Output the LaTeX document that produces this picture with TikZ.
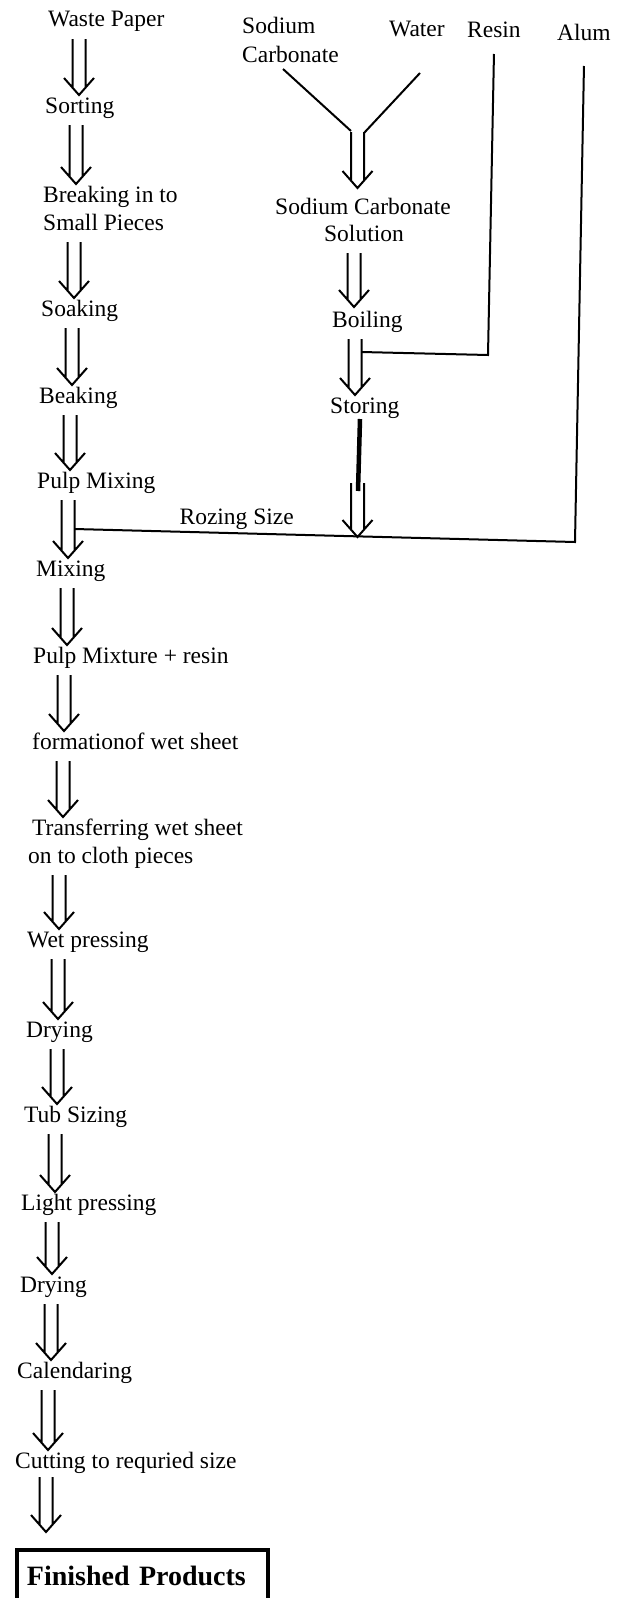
\documentclass[tikz,border=0pt]{standalone}
\usepackage{fontspec}
\setmainfont{Liberation Serif}
\usetikzlibrary{calc}
\tikzset{
  lbl/.style={inner sep=0pt, anchor=base west, font=\fontsize{23.5}{28}\selectfont},
  ln/.style={line width=2pt},
  dbl/.style n args={3}{ln, to path={let \p1=(\tikztostart), \p2=(\tikztotarget) in
     (\x1+#1-6.5pt,\y1-#2) -- (\x1+#1-6.5pt,\y2+#3+8pt)
     (\x1+#1+6.5pt,\y1-#2) -- (\x1+#1+6.5pt,\y2+#3+8pt)
     (\x1+#1-15pt,\y2+#3+17pt) -- (\x1+#1,\y2+#3) -- (\x1+#1+15pt,\y2+#3+17pt)}},
  flow/.style={dbl={31pt}{12pt}{18pt}},
  finbox/.style={draw, line width=4pt, anchor=north west, inner xsep=10pt, inner ysep=0pt,
     text width=231pt, minimum height=52pt, align=left,
     font=\bfseries\fontsize{28}{32}\selectfont},
}
\begin{document}
\begin{tikzpicture}[x=1pt,y=1pt]
\useasboundingbox (0,0) rectangle (626,-1598);
\clip (0,0) rectangle (626,-1598);
% left column
\node[lbl] (w1) at (48,-27) {Waste Paper};
\node[lbl] (w2) at (45,-113) {Sorting};
\node[lbl] (w3a) at (43,-202) {Breaking in to};
\node[lbl] (w3b) at (43,-230) {Small Pieces};
\node[lbl] (w4) at (41,-316) {Soaking};
\node[lbl] (w5) at (39,-403) {Beaking};
\node[lbl] (w6) at (37,-488) {Pulp Mixing};
\node[lbl] (w7) at (36,-576) {Mixing};
\node[lbl] (w8) at (33,-663) {Pulp Mixture + resin};
\node[lbl] (w9) at (32,-749) {formationof wet sheet};
\node[lbl] (w10a) at (32,-835) {Transferring wet sheet};
\node[lbl] (w10b) at (28,-863) {on to cloth pieces};
\node[lbl] (w11) at (27,-947) {Wet pressing};
\node[lbl] (w12) at (26,-1037) {Drying};
\node[lbl] (w13) at (24,-1122) {Tub Sizing};
\node[lbl] (w14) at (21,-1210) {Light pressing};
\node[lbl] (w15) at (20,-1292) {Drying};
\node[lbl] (w16) at (17,-1378) {Calendaring};
\node[lbl] (w17) at (15,-1468) {Cutting to requried size};
\node[finbox] (fin) at (15,-1548) {Finished Products};
% left arrows
\draw[flow] (w1.base west) to (w2.base west);
\draw[flow] (w2.base west) to (w3a.base west);
\draw[flow] (w3b.base west) to (w4.base west);
\draw[flow] (w4.base west) to (w5.base west);
\draw[flow] (w5.base west) to (w6.base west);
\draw[flow] (w6.base west) to (w7.base west);
\draw[flow] (w7.base west) to (w8.base west);
\draw[flow] (w8.base west) to (w9.base west);
\draw[flow] (w9.base west) to (w10a.base west);
\draw[flow] (w10b.base west) to (w11.base west);
\draw[flow] (w11.base west) to (w12.base west);
\draw[flow] (w12.base west) to (w13.base west);
\draw[flow] (w13.base west) to (w14.base west);
\draw[flow] (w14.base west) to (w15.base west);
\draw[flow] (w15.base west) to (w16.base west);
\draw[flow] (w16.base west) to (w17.base west);
\draw[dbl={31pt}{9pt}{16pt}] (w17.base west) to (fin.north);
% right column
\node[lbl] (sod) at (242,-33) {Sodium};
\node[lbl] (carb) at (242,-62) {Carbonate};
\node[lbl] (water) at (389,-36) {Water};
\node[lbl] (resin) at (467,-37) {Resin};
\node[lbl] (alum) at (557,-40) {Alum};
\node[lbl] (sc1) at (275,-214) {Sodium Carbonate};
\node[lbl, anchor=base] (sc2) at (364,-241) {Solution};
\node[lbl] (boil) at (332,-327) {Boiling};
\node[lbl] (stor) at (330,-413) {Storing};
\node[lbl, anchor=base east] (roz) at (294,-524) {Rozing Size};
\coordinate (cs) at (283,-69);
\coordinate (jl) at (351,-131);
\coordinate (ws) at (420,-73);
\coordinate (jr) at (364,-133);
\coordinate (join) at (357.5,-132);
\draw[ln] (cs) -- (jl);
\draw[ln] (ws) -- (jr);
\draw[dbl={0pt}{0pt}{26pt}] (join) to (sc1.base west);
\draw[dbl={-10pt}{12pt}{20pt}] (sc2.base) to (boil.base west);
\draw[dbl={23pt}{12pt}{18pt}] (boil.base west) to (stor.base west);
% resin feed
\coordinate (rc) at (488,-355);
\coordinate (rj) at (361.5,-352);
\draw[ln] ([yshift=-17pt]resin.base) -- (rc) -- (rj);
% storing to rozing size
\coordinate (sj) at (358,-491);
\draw[line width=4.5pt] ([xshift=30pt,yshift=-6pt]stor.base west) -- (sj);
\coordinate (rt) at (357.5,-483);
\coordinate (rz) at (357.5,-537);
\draw[dbl={0pt}{0pt}{0pt}] (rt) to (rz);
% alum feed and rozing size line
\coordinate (ac) at (575,-542);
\coordinate (mj) at (74.5,-529);
\draw[ln] ([yshift=-26pt]alum.base) -- (ac) -- (mj);
\end{tikzpicture}
\end{document}
